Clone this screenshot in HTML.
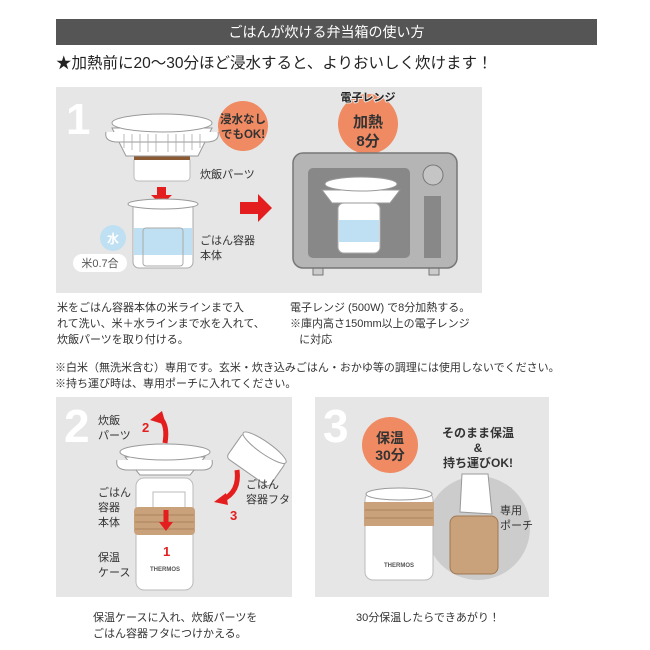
<!DOCTYPE html>
<html><head><meta charset="utf-8"><style>
body{margin:0;width:650px;height:650px;background:#fff;overflow:hidden;position:relative;font-family:"Liberation Sans","Noto Sans CJK JP",sans-serif;color:#333}
.t{position:absolute;white-space:nowrap}
</style></head><body>
<div class="t" style="left:56px;top:19px;width:541px;height:26px;background:#555;color:#fff;font-size:14px;line-height:26px;text-align:center">ごはんが炊ける弁当箱の使い方</div>
<div class="t" style="left:56px;top:53px;font-size:15.5px;line-height:22px;color:#222">★加熱前に20～30分ほど浸水すると、よりおいしく炊けます！</div>

<svg width="650" height="650" style="position:absolute;left:0;top:0" font-family="Liberation Sans, Noto Sans CJK JP, sans-serif">
<rect x="56" y="87" width="426" height="206" fill="#e6e6e6"/>
<text x="66" y="134" font-size="44" font-weight="bold" fill="#fff">1</text>
<rect x="134" y="157" width="56" height="24" rx="4" fill="#fff" stroke="#bbb"/>
<rect x="134" y="155" width="56" height="5" fill="#8a5a35"/>
<path d="M112 128 L212 128 L198 156 L126 156 Z" fill="#fff" stroke="#999"/>
<path d="M106 132 Q104 142 118 142 L206 142 Q220 142 218 132" fill="#fff" stroke="#999"/>
<ellipse cx="162" cy="123" rx="50" ry="9" fill="#fff" stroke="#999"/>
<g fill="none" stroke="#aaa" stroke-width="0.8"><path d="M124 134 v14 M132 134 v16 M140 134 v18 M148 134 v18 M156 134 v18 M168 134 v18 M176 134 v18 M184 134 v18 M192 134 v16 M200 134 v14"/></g>
<circle cx="243" cy="126" r="25" fill="#ef8a62"/>
<text x="243" y="123" font-size="11.5" font-weight="bold" fill="#333" text-anchor="middle">浸水なし</text>
<text x="243" y="138" font-size="11.5" font-weight="bold" fill="#333" text-anchor="middle">でもOK!</text>
<text x="200" y="178" font-size="11" fill="#333">炊飯パーツ</text>
<path d="M157 187 h9 v8 h6 l-10.5 10 l-10.5 -10 h6z" fill="#e41e1e"/>
<rect x="133" y="202" width="60" height="66" rx="6" fill="#fff" stroke="#aaa"/>
<ellipse cx="163" cy="204" rx="35" ry="5" fill="#fff" stroke="#999"/>
<rect x="134" y="228" width="58" height="27" fill="#bfe0f2"/>
<rect x="143" y="228" width="40" height="38" rx="3" fill="none" stroke="#aaa"/>
<circle cx="113" cy="238" r="13" fill="#bfe0f2"/>
<text x="113" y="243" font-size="12" font-weight="bold" fill="#fff" text-anchor="middle">水</text>
<rect x="73" y="254" width="54" height="18" rx="9" fill="#fff"/>
<text x="100" y="267" font-size="11" fill="#555" text-anchor="middle">米0.7合</text>
<text x="200" y="244" font-size="11" fill="#333">ごはん容器</text>
<text x="200" y="259" font-size="11" fill="#333">本体</text>
<path d="M240 202 h18 v-8 l14 14 l-14 14 v-8 h-18z" fill="#e41e1e"/>
<circle cx="368" cy="124" r="30" fill="#ef8a62"/>
<text x="368" y="101" font-size="11" font-weight="bold" fill="#222" text-anchor="middle" stroke="#e6e6e6" stroke-width="2" paint-order="stroke">電子レンジ</text>
<text x="368" y="127" font-size="15" font-weight="bold" fill="#333" text-anchor="middle">加熱</text>
<text x="368" y="146" font-size="15" font-weight="bold" fill="#333" text-anchor="middle">8分</text>
<rect x="313" y="266" width="10" height="9" fill="#ccc" stroke="#777"/>
<rect x="429" y="266" width="10" height="9" fill="#ccc" stroke="#777"/>
<rect x="293" y="153" width="164" height="115" rx="10" fill="#b5b5b5" stroke="#777" stroke-width="1.5"/>
<rect x="308" y="168" width="102" height="90" rx="5" fill="#888"/>
<circle cx="433" cy="175" r="10" fill="#c5c5c5" stroke="#777"/>
<rect x="424" y="196" width="17" height="62" fill="#888"/>
<rect x="338" y="203" width="42" height="50" rx="6" fill="#fff" stroke="#aaa"/>
<rect x="339" y="220" width="40" height="22" fill="#bfe0f2"/>
<path d="M322 190 h78 l-10 13 h-58z" fill="#fff" stroke="#999"/>
<ellipse cx="361" cy="184" rx="36" ry="7" fill="#fff" stroke="#999"/>
</svg>

<div class="t" style="left:57px;top:300px;font-size:11px;line-height:16px">米をごはん容器本体の米ラインまで入<br>れて洗い、米＋水ラインまで水を入れて、<br>炊飯パーツを取り付ける。</div>
<div class="t" style="left:290px;top:300px;font-size:11px;line-height:16px">電子レンジ (500W) で8分加熱する。<br>※庫内高さ150mm以上の電子レンジ<br>&nbsp;&nbsp;&nbsp;に対応</div>
<div class="t" style="left:55px;top:360px;font-size:11px;line-height:16px">※白米（無洗米含む）専用です。玄米・炊き込みごはん・おかゆ等の調理には使用しないでください。<br>※持ち運び時は、専用ポーチに入れてください。</div>

<svg width="650" height="650" style="position:absolute;left:0;top:0" font-family="Liberation Sans, Noto Sans CJK JP, sans-serif">
<rect x="56" y="397" width="236" height="200" fill="#e6e6e6"/>
<rect x="315" y="397" width="234" height="200" fill="#e6e6e6"/>
<text x="64" y="442" font-size="46" font-weight="bold" fill="#fff">2</text>
<text x="323" y="442" font-size="46" font-weight="bold" fill="#fff">3</text>
<rect x="136" y="478" width="57" height="112" rx="8" fill="#fff" stroke="#bbb"/>
<rect x="153" y="492" width="32" height="30" fill="#fff" stroke="#bbb"/>
<rect x="134" y="507" width="61" height="28" rx="4" fill="#c9a27c"/>
<path d="M135 515 h59 M135 522 h59 M135 529 h59" stroke="#a07850" stroke-width="0.8"/>
<text x="165" y="571" font-size="6" font-weight="bold" fill="#555" text-anchor="middle">THERMOS</text>
<path d="M125 457 L205 457 L190 475 L140 475 Z" fill="#fff" stroke="#999"/>
<path d="M117 460 Q115 470 128 470 L202 470 Q214 470 212 460" fill="#fff" stroke="#999"/>
<ellipse cx="165" cy="452" rx="45" ry="8" fill="#fff" stroke="#999"/>
<path d="M160 418 Q168 425 165 443" fill="none" stroke="#e41e1e" stroke-width="5"/>
<path d="M150 420 l12 -9 l4 14z" fill="#e41e1e"/>
<path d="M166 510 v14" stroke="#e41e1e" stroke-width="5"/>
<path d="M159 522 h14 l-7 9z" fill="#e41e1e"/>
<path d="M237 470 Q240 492 222 500" fill="none" stroke="#e41e1e" stroke-width="5"/>
<path d="M214 502 l12 -9 l2 12z" fill="#e41e1e"/>
<text x="142" y="432" font-size="13" font-weight="bold" fill="#e41e1e">2</text>
<text x="163" y="556" font-size="13" font-weight="bold" fill="#e41e1e">1</text>
<text x="230" y="520" font-size="13" font-weight="bold" fill="#e41e1e">3</text>
<g transform="rotate(35 256 460)"><rect x="230" y="445" width="52" height="30" rx="4" fill="#fff" stroke="#999"/><ellipse cx="256" cy="445" rx="26" ry="6" fill="#fff" stroke="#999"/></g>
<g font-size="11" fill="#333">
<text x="98" y="424">炊飯</text><text x="98" y="439">パーツ</text>
<text x="98" y="496">ごはん</text><text x="98" y="511">容器</text><text x="98" y="526">本体</text>
<text x="98" y="561">保温</text><text x="98" y="576">ケース</text>
<text x="246" y="488">ごはん</text><text x="246" y="503">容器フタ</text>
</g>
<circle cx="390" cy="445" r="28" fill="#ef8a62"/>
<text x="390" y="443" font-size="14" font-weight="bold" fill="#333" text-anchor="middle">保温</text>
<text x="390" y="460" font-size="14" font-weight="bold" fill="#333" text-anchor="middle">30分</text>
<g font-size="12" font-weight="bold" fill="#333" text-anchor="middle"><text x="478" y="437">そのまま保温</text><text x="478" y="452">&amp;</text><text x="478" y="467">持ち運びOK!</text></g>
<circle cx="478" cy="528" r="52" fill="#ccc"/>
<rect x="365" y="492" width="68" height="88" rx="8" fill="#fff" stroke="#bbb"/>
<ellipse cx="399" cy="494" rx="33" ry="6" fill="#fff" stroke="#999"/>
<rect x="364" y="502" width="70" height="24" fill="#c9a27c"/>
<path d="M365 510 h68 M365 518 h68" stroke="#a07850" stroke-width="0.8"/>
<text x="399" y="567" font-size="6" font-weight="bold" fill="#555" text-anchor="middle">THERMOS</text>
<path d="M462 474 L460 512 L492 514 L488 474 Z" fill="#fff" stroke="#999"/>
<rect x="450" y="516" width="48" height="58" rx="7" fill="#c9a27c" stroke="#a07850"/>
<text x="500" y="514" font-size="11" fill="#333">専用</text>
<text x="500" y="529" font-size="11" fill="#333">ポーチ</text>
</svg>

<div class="t" style="left:93px;top:610px;font-size:11px;line-height:16px">保温ケースに入れ、炊飯パーツを<br>ごはん容器フタにつけかえる。</div>
<div class="t" style="left:356px;top:610px;font-size:11px;line-height:16px">30分保温したらできあがり！</div>
</body></html>
